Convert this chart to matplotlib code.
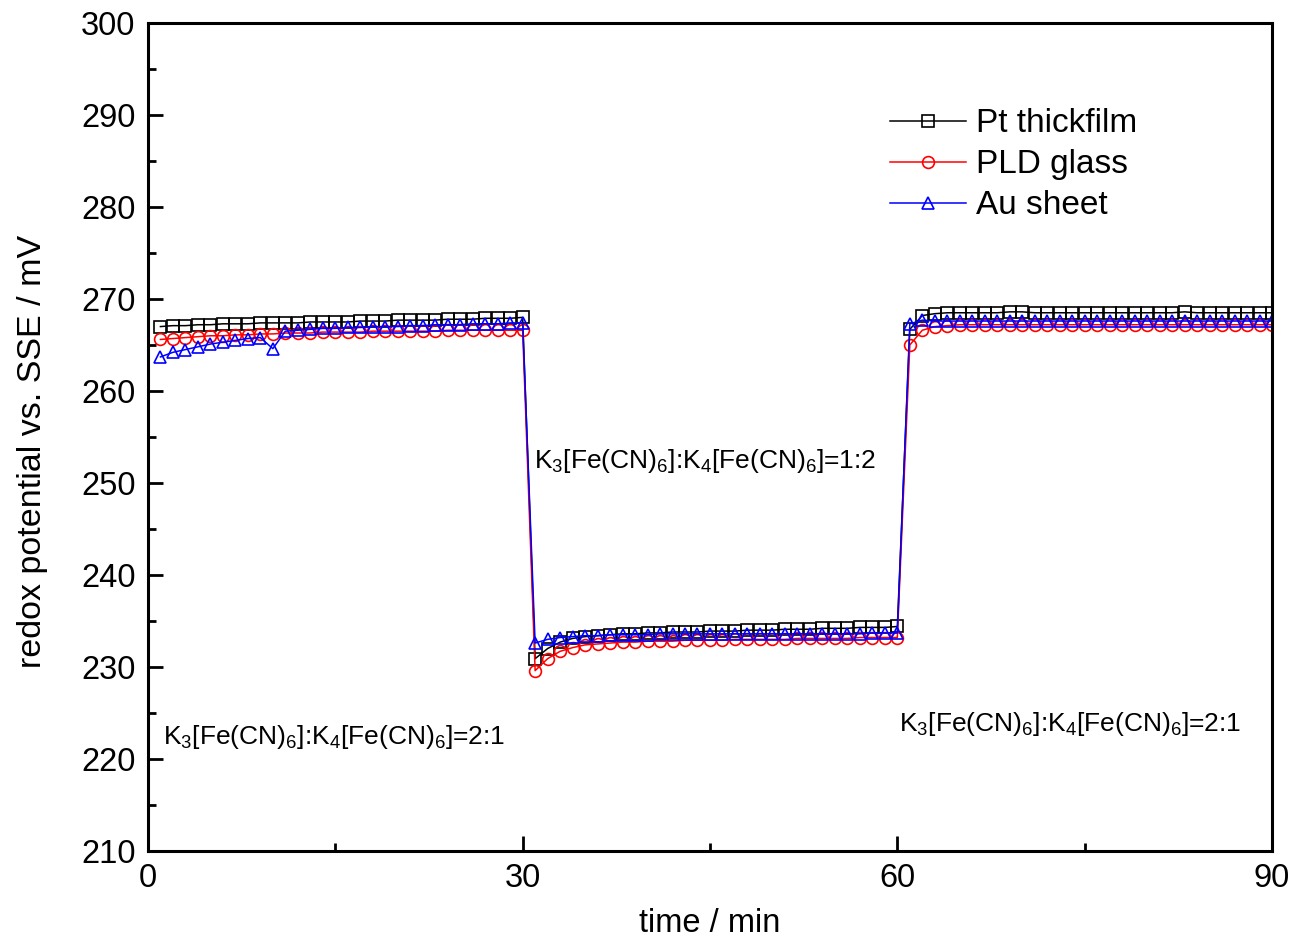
import numpy as np
import matplotlib
matplotlib.use("Agg")
from matplotlib import pyplot as plt

plt.rcParams["font.family"] = ["Liberation Sans", "DejaVu Sans"]
plt.rcParams["mathtext.fontset"] = "custom"
plt.rcParams["mathtext.rm"] = "Liberation Sans"
plt.rcParams["mathtext.it"] = "Liberation Sans"
plt.rcParams["mathtext.default"] = "regular"

# time in minutes, one reading per minute
time = np.arange(1, 91)

pt_thickfilm = [
    267.0, 267.1, 267.1, 267.2, 267.2, 267.3, 267.3, 267.3, 267.4, 267.4,
    267.4, 267.4, 267.5, 267.5, 267.5, 267.5, 267.6, 267.6, 267.6, 267.7,
    267.7, 267.7, 267.7, 267.8, 267.8, 267.8, 267.9, 267.9, 267.9, 268.0,
    230.9, 232.0, 232.7, 233.1, 233.3, 233.4, 233.5, 233.6, 233.6, 233.7,
    233.7, 233.8, 233.8, 233.8, 233.9, 233.9, 233.9, 234.0, 234.0, 234.0,
    234.1, 234.1, 234.1, 234.2, 234.2, 234.2, 234.3, 234.3, 234.3, 234.4,
    266.7, 268.2, 268.4, 268.5, 268.5, 268.5, 268.5, 268.5, 268.6, 268.6,
    268.5, 268.5, 268.5, 268.5, 268.5, 268.5, 268.5, 268.5, 268.5, 268.5,
    268.5, 268.5, 268.6, 268.5, 268.5, 268.5, 268.5, 268.5, 268.5, 268.5,
]

pld_glass = [
    265.6, 265.7, 265.8, 265.9, 266.0, 266.0, 266.1, 266.1, 266.2, 266.2,
    266.3, 266.3, 266.3, 266.4, 266.4, 266.4, 266.4, 266.5, 266.5, 266.5,
    266.5, 266.5, 266.5, 266.6, 266.6, 266.6, 266.6, 266.6, 266.6, 266.6,
    229.6, 230.9, 231.7, 232.1, 232.4, 232.5, 232.6, 232.7, 232.7, 232.8,
    232.8, 232.8, 232.9, 232.9, 232.9, 232.9, 233.0, 233.0, 233.0, 233.0,
    233.0, 233.1, 233.1, 233.1, 233.1, 233.1, 233.2, 233.2, 233.2, 233.2,
    265.0, 266.6, 267.0, 267.1, 267.2, 267.2, 267.2, 267.2, 267.2, 267.2,
    267.2, 267.2, 267.2, 267.2, 267.2, 267.2, 267.2, 267.2, 267.2, 267.2,
    267.2, 267.2, 267.2, 267.2, 267.2, 267.2, 267.2, 267.2, 267.2, 267.2,
]

au_sheet = [
    263.7, 264.2, 264.5, 264.8, 265.1, 265.3, 265.5, 265.7, 265.8, 264.6,
    266.5, 266.6, 266.7, 266.8, 266.8, 266.9, 266.9, 267.0, 267.0, 267.0,
    267.1, 267.1, 267.2, 267.2, 267.2, 267.3, 267.3, 267.3, 267.4, 267.4,
    232.6, 233.0, 233.2, 233.3, 233.4, 233.4, 233.5, 233.5, 233.5, 233.5,
    233.6, 233.6, 233.6, 233.6, 233.6, 233.6, 233.6, 233.6, 233.6, 233.6,
    233.6, 233.6, 233.6, 233.6, 233.6, 233.6, 233.6, 233.7, 233.7, 233.7,
    267.3, 267.7, 267.6, 267.6, 267.6, 267.6, 267.6, 267.6, 267.6, 267.6,
    267.6, 267.6, 267.6, 267.6, 267.6, 267.6, 267.6, 267.6, 267.6, 267.6,
    267.6, 267.6, 267.6, 267.6, 267.6, 267.6, 267.6, 267.6, 267.6, 267.6,
]

ratio_labels = [
    r"K$_3$[Fe(CN)$_6$]:K$_4$[Fe(CN)$_6$]=2:1",
    r"K$_3$[Fe(CN)$_6$]:K$_4$[Fe(CN)$_6$]=1:2",
    r"K$_3$[Fe(CN)$_6$]:K$_4$[Fe(CN)$_6$]=2:1",
]
label_pos = [(1.2, 222.4), (30.9, 252.4), (60.1, 223.8)]

fig = plt.figure(figsize=(12.91, 9.38), dpi=100)
ax = fig.add_axes([0.1146, 0.0928, 0.8707, 0.8827])

ax.plot(time, pt_thickfilm, color="black", lw=1.1, marker="s", ms=8,
        mfc="none", mec="black", mew=1.2, label="Pt thickfilm")
ax.plot(time, pld_glass, color="red", lw=1.1, marker="o", ms=8.5,
        mfc="none", mec="red", mew=1.2, label="PLD glass")
ax.plot(time, au_sheet, color="blue", lw=1.1, marker="^", ms=9,
        mfc="none", mec="blue", mew=1.2, label="Au sheet")

for text, (x, y) in zip(ratio_labels, label_pos):
    ax.text(x, y, text, fontsize=19, ha="left", va="center")

ax.set_xlim(0, 90)
ax.set_ylim(210, 300)
ax.set_xticks([0, 30, 60, 90])
ax.set_xticks([15, 45, 75], minor=True)
ax.set_yticks(np.arange(210, 301, 10))
ax.set_yticks(np.arange(215, 300, 10), minor=True)
ax.tick_params(which="both", direction="in", top=False, right=False,
               width=2.0, labelsize=23.5)
ax.tick_params(which="major", length=11, pad=9)
ax.tick_params(which="minor", length=6)
for s in ax.spines.values():
    s.set_linewidth(2.2)

ax.set_xlabel("time / min", fontsize=23.5, labelpad=10)
ax.set_ylabel("redox potential vs. SSE / mV", fontsize=24.5)
ax.yaxis.set_label_coords(-0.089, 0.482)

ax.legend(loc="upper left", bbox_to_anchor=(0.648, 0.913), frameon=False,
          fontsize=24, handlelength=2.3, handletextpad=0.3,
          labelspacing=0.3, borderaxespad=0)

fig.savefig("out.png", dpi=100)
